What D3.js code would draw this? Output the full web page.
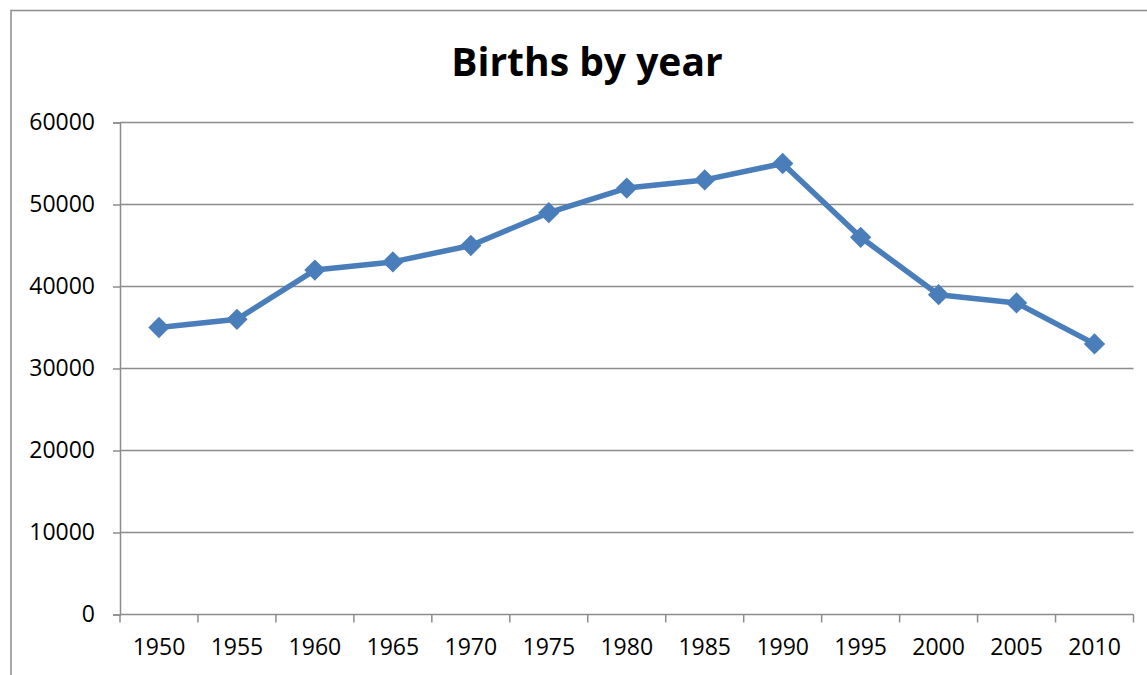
<!DOCTYPE html>
<html>
<head>
<meta charset="utf-8">
<script src="https://cdn.jsdelivr.net/npm/d3@7"></script>
<style>
  body { margin: 0; background: #fff; }
  svg text { font-family: "Open Sans", "Noto Sans", sans-serif; fill: #000; }
</style>
</head>
<body>
<div class="chart"></div>
<script>
const years = ['1950', '1955', '1960', '1965', '1970', '1975', '1980', '1985', '1990', '1995', '2000', '2005', '2010'];
const births = [35000, 36000, 42000, 43000, 45000, 49000, 52000, 53000, 55000, 46000, 39000, 38000, 33000];
const yTicks = [0, 10000, 20000, 30000, 40000, 50000, 60000];
const title = 'Births by year';

function drawChart() {
  const w = 1147;
  const h = 675;
  const plot = { left: 120, right: 1133.5, top: 122.5, bottom: 614.5 };
  const axisColor = '#8c8c8c';
  const lineColor = '#4a7ebb';

  const svg = d3.select('.chart')
    .append('svg')
    .attr('width', w)
    .attr('height', h);

  // outer frame (only top and left edges show in the crop)
  svg.append('path')
    .attr('d', `M11,${h} V10.5 H${w}`)
    .attr('fill', 'none')
    .attr('stroke', axisColor)
    .attr('stroke-width', 1.5);

  svg.append('text')
    .attr('x', 587)
    .attr('y', 76)
    .attr('text-anchor', 'middle')
    .attr('font-size', 39)
    .attr('font-weight', 'bold')
    .text(title);

  const x = d3.scaleBand()
    .domain(years)
    .range([plot.left, plot.right]);

  const y = d3.scaleLinear()
    .domain([0, 60000])
    .range([plot.bottom, plot.top]);

  // gridlines
  svg.append('g')
    .attr('class', 'grid')
    .selectAll('line')
    .data(yTicks.filter(d => d > 0))
    .enter()
    .append('line')
    .attr('x1', plot.left)
    .attr('x2', plot.right)
    .attr('y1', d => y(d))
    .attr('y2', d => y(d))
    .attr('stroke', axisColor)
    .attr('stroke-width', 1.5);

  const yAxis = svg.append('g')
    .attr('transform', `translate(${plot.left},0)`)
    .call(d3.axisLeft(y).tickValues(yTicks).tickSize(7).tickPadding(18).tickFormat(d3.format('d')));

  const xAxis = svg.append('g')
    .attr('transform', `translate(0,${plot.bottom})`)
    .call(d3.axisBottom(x).tickSize(0).tickPadding(24));

  // category boundary ticks
  xAxis.selectAll('.bound')
    .data(years.map(d => x(d)).concat([plot.right]))
    .enter()
    .append('line')
    .attr('class', 'bound')
    .attr('x1', d => d)
    .attr('x2', d => d)
    .attr('y1', 0)
    .attr('y2', 8)
    .attr('stroke', axisColor)
    .attr('stroke-width', 1.5);

  [yAxis, xAxis].forEach(g => {
    g.select('.domain').attr('stroke', axisColor).attr('stroke-width', 1.5);
    g.selectAll('.tick line').attr('stroke', axisColor).attr('stroke-width', 1.5);
    g.selectAll('.tick text').attr('font-size', 23).attr('fill', '#000');
  });
  xAxis.select('.domain').attr('d', `M${plot.left},0H${plot.right}`);

  const cx = d => x(d) + x.bandwidth() / 2;

  const line = d3.line()
    .x((d, i) => cx(years[i]))
    .y(d => y(d));

  svg.append('path')
    .datum(births)
    .attr('fill', 'none')
    .attr('stroke', lineColor)
    .attr('stroke-width', 5.5)
    .attr('stroke-linejoin', 'round')
    .attr('d', line);

  svg.append('g')
    .selectAll('path')
    .data(births)
    .enter()
    .append('path')
    .attr('d', d3.symbol().type(d3.symbolDiamond2).size(290))
    .attr('transform', (d, i) => `translate(${cx(years[i])},${y(d)})`)
    .attr('fill', lineColor);
}

drawChart();
</script>
</body>
</html>
